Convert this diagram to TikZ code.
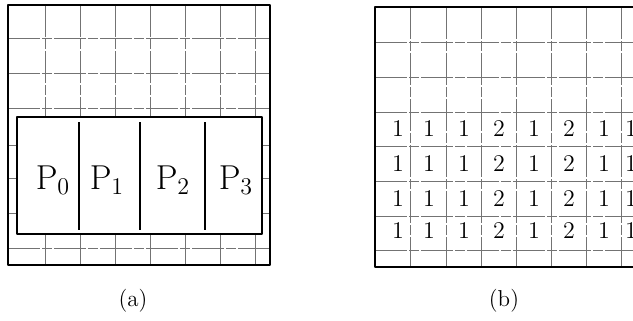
\documentclass[tikz,border=0pt]{standalone}
\begin{document}
\begin{tikzpicture}[x=0.5pt, y=-0.5pt, line join=round,
	gridline/.style={black!55, line width=0.45pt, dash pattern=on 16pt off 1pt on 5pt off 1pt},
	frame/.style={line width=1.1pt},
	plabel/.style={font=\fontsize{16.5}{18}\selectfont},
	cell/.style={font=\fontsize{12}{14}\selectfont},
	caption/.style={font=\fontsize{11.5}{13}\selectfont}]
	\useasboundingbox (0,0) rectangle (633,321);
	% (a)
	\path
	(8,5) coordinate (A1)
	(270,265) coordinate (A2)
	(17,117) coordinate (B1)
	(262,234) coordinate (B2)
	;
	\foreach \x in {45,80,...,255}
	\draw[gridline] (\x,5) -- (\x,265);
	\foreach \y in {38,73,108,145,178,213,248}
	\draw[gridline] (8,\y) -- (270,\y);
	\draw[frame] (A1) rectangle (A2);
	\draw[line width=0.9pt, fill=white] (B1) rectangle (B2);
	\foreach \x in {79,140,205}
	\draw[line width=0.8pt] (\x,122) -- (\x,230);
	\foreach \i/\x in {0/53,1/107,2/173,3/236}
	\node[plabel] (p\i) at (\x,180) {$\mathrm{P}_{\i}$};
	\node[caption] (capa) at (133,301) {(a)};
	% (b)
	\foreach \x in {410,446,481,516,551,586,621}
	\draw[gridline] (\x,7) -- (\x,267);
	\foreach \y in {42,77,112,146,181,216,250}
	\draw[gridline] (375,\y) -- (633,\y);
	\draw[frame] (633,7) -- (375,7) -- (375,267) -- (633,267);
	\foreach \r/\y in {1/129,2/164,3/199,4/231}
	\foreach \c/\x/\v in {1/398/1,2/429/1,3/464/1,4/499/2,5/534/1,6/569/2,7/604/1,8/631/1}
	\node[cell] (n\r\c) at (\x,\y) {\v};
	\node[caption] (capb) at (504,301) {(b)};
\end{tikzpicture}
\end{document}
